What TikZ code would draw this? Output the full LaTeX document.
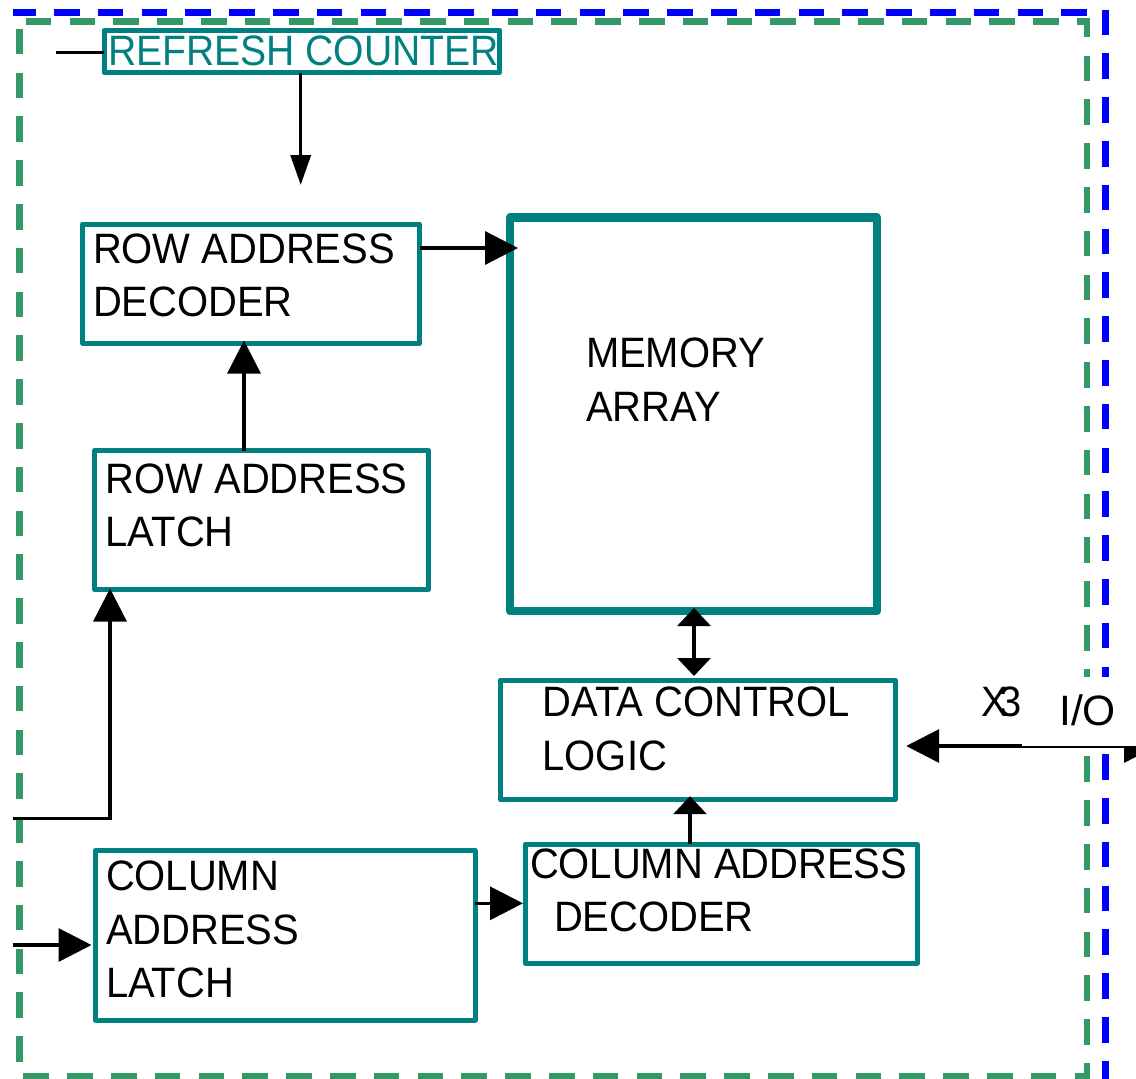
\documentclass[tikz,border=0pt]{standalone}
\usepackage{fontspec}
\setmainfont{Liberation Sans}[FakeStretch=0.94]
\newfontfamily\narrowsans{Liberation Sans}[FakeStretch=0.92]
\newfontfamily\plainsans{Liberation Sans}
\usetikzlibrary{arrows.meta}
\definecolor{boxteal}{RGB}{0,128,128}
\definecolor{framegreen}{RGB}{51,153,102}
\definecolor{frameblue}{RGB}{0,0,255}

\begin{document}
\begin{tikzpicture}[x=1pt,y=-1pt,
  blk/.style={draw=boxteal, line width=5pt, line join=round, rectangle,
    inner sep=0pt, outer sep=0pt, anchor=north west},
  % multi-line labels are placed by the baseline of their last line
  lbl/.style={anchor=base west, align=left, inner sep=0pt, outer sep=0pt,
    font=\fontsize{42.5}{53.3}\selectfont},
  wire/.style={line width=3.4pt, black},
  tipbig/.style={-{Triangle[length=33pt,width=33pt]}},
  tipsmall/.style={-{Triangle[length=30pt,width=20pt]}},
  tipsquat/.style={-{Triangle[length=18pt,width=33pt]}},
  tipsquatboth/.style={{Triangle[length=18pt,width=33pt]}-{Triangle[length=18pt,width=33pt]}},
  tipbigboth/.style={{Triangle[length=33pt,width=33pt]}-{Triangle[length=33pt,width=33pt]}},
  frame/.style={line width=6.5pt, dash pattern=on 25.6pt off 18.2pt}
]
\useasboundingbox (0,0) rectangle (1136,1079);
\fill[white] (0,0) rectangle (1136,1079);
\clip (0,0) rectangle (1136,1079);

% outer dashed frames
\draw[frame, framegreen, dash phase=37.3pt]
  (19.3,21.7) -- (1087,21.7) -- (1087,1076) -- (19.3,1076) -- cycle;
\draw[frame, frameblue, dash phase=2.8pt] (13,12.5) -- (1102,12.5);
\draw[frame, frameblue] (1105.5,9.5) -- (1105.5,1095);

% blocks
\node[blk, minimum width=395.7pt, minimum height=42pt]   (refresh) at (104,30.5) {};
\node[blk, minimum width=337pt,   minimum height=119pt]  (rad)     at (82.5,224) {};
\node[blk, minimum width=334pt,   minimum height=139pt]  (ral)     at (94.5,450.5) {};
\node[blk, line width=8.5pt, minimum width=367.2pt, minimum height=393.5pt] (mem) at (510,217.5) {};
\node[blk, minimum width=395pt,   minimum height=119.5pt] (dcl)    at (500.2,680) {};
\node[blk, minimum width=392pt,   minimum height=119pt]  (cad)     at (525.2,844.2) {};
\node[blk, minimum width=379.5pt, minimum height=169.5pt] (cal)    at (95.5,850.5) {};

% block labels
\node[lbl, text=boxteal, font=\narrowsans\fontsize{42.5}{53.3}\selectfont] (refreshtxt) at (108,65) {REFRESH COUNTER};
\node[lbl] (radtxt) at (93,316.5) {ROW ADDRESS\\DECODER};
\node[lbl] (raltxt) at (105.7,546.7) {ROW ADDRESS\\LATCH};
\node[lbl] (memtxt) at (586,421) {MEMORY\\ARRAY};
\node[lbl] (dcltxt) at (542.7,770) {DATA CONTROL\\LOGIC};
\node[lbl] (cadtxt) at (530,931.5) {COLUMN ADDRESS\\\hspace*{24pt}DECODER};
\node[lbl] (caltxt) at (106,997.5) {COLUMN\\ADDRESS\\LATCH};

% connector helpers
\coordinate (refin)   at (56,52.7);
\coordinate (refdown) at (300.7,185);
\coordinate (rowbus)  at (0,248);
\coordinate (upx)     at (244,0);
\coordinate (rowin)   at (13.3,818.3);
\coordinate (rowbend) at (110,818.3);
\coordinate (colin)   at (13.3,945);
\coordinate (colbus)  at (0,903.3);
\coordinate (cadx)    at (690,0);
\coordinate (memx)    at (694,0);
\coordinate (ioright) at (1157,746);

% connectors
\draw[wire] (refin) -- (refin -| refresh.west);
\draw[wire, tipsmall] (refdown |- refresh.south) -- (refdown);
\draw[wire, tipbig, shorten >=-8pt] (rowbus -| rad.east) -- (rowbus -| mem.west);
\draw[wire, tipbig, shorten >=-2.5pt] (upx |- ral.north) -- (upx |- rad.south);
\draw[wire, tipbig, shorten >=-1pt] (rowin) -- (rowbend) -- (rowbend |- ral.south);
\draw[wire, tipbig, shorten >=4pt] (colin) -- (colin -| cal.west);
\draw[wire, tipbig, shorten >=2.2pt] (colbus -| cal.east) -- (colbus -| cad.west);
\draw[wire, tipsquat, shorten >=-3.3pt] (cadx |- cad.north) -- (cadx |- dcl.south);
\draw[wire, tipsquatboth, shorten <=-3pt, shorten >=4pt] (memx |- mem.south) -- (memx |- dcl.north);
\draw[wire, tipbigboth, shorten >=11pt] (ioright) -- (ioright -| dcl.east);

% I/O port label on a white patch over the frame
\node[fill=white, inner sep=0pt, outer sep=0pt, anchor=north west,
  minimum width=130pt, minimum height=69pt] (iopatch) at (1022,677) {};
\node[lbl, font=\plainsans\fontsize{42.5}{53.3}\selectfont] (iotxt) at (1059.3,725) {I/O};
\node[lbl] (x3txt) at (981.7,716.7) {X\kern-9pt 3};
\end{tikzpicture}
\end{document}
